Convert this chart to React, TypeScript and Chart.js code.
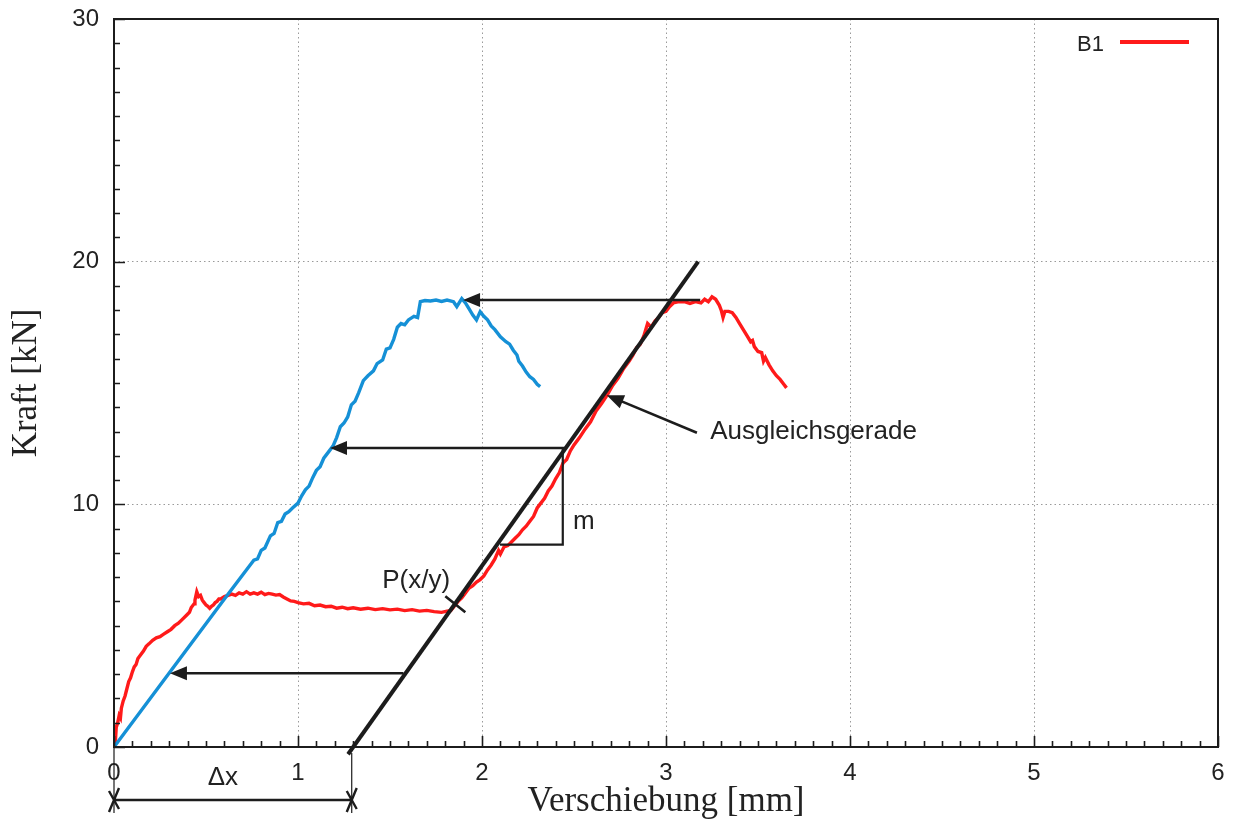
import { useEffect, useRef } from 'react';
import { Chart, registerables } from 'chart.js';

Chart.register(...registerables);

// ---- Axis ticks ----
const xMajorTicks = [0, 1, 2, 3, 4, 5, 6];
const yMajorTicks = [0, 10, 20, 30];
const xMinorStep = 0.1;
const yMinorStep = 1;

// ---- Series: B1 (measured, red) ----
const b1X = [0, 0.004, 0.008, 0.012, 0.02, 0.028, 0.035, 0.04, 0.05, 0.06, 0.07, 0.08, 0.09, 0.1, 0.11, 0.12, 0.13, 0.145, 0.16, 0.175, 0.19, 0.21, 0.23, 0.25, 0.27, 0.29, 0.31, 0.33, 0.35, 0.37, 0.39, 0.41, 0.42, 0.435, 0.44, 0.45, 0.46, 0.47, 0.48, 0.49, 0.5, 0.51, 0.52, 0.53, 0.54, 0.55, 0.56, 0.57, 0.58, 0.6, 0.62, 0.64, 0.66, 0.68, 0.7, 0.72, 0.74, 0.76, 0.78, 0.8, 0.82, 0.84, 0.86, 0.88, 0.9, 0.92, 0.94, 0.96, 0.98, 1.0, 1.03, 1.06, 1.09, 1.12, 1.15, 1.18, 1.21, 1.24, 1.27, 1.3, 1.34, 1.38, 1.42, 1.46, 1.5, 1.54, 1.58, 1.62, 1.66, 1.7, 1.74, 1.78, 1.81, 1.83, 1.855, 1.87, 1.89, 1.91, 1.93, 1.95, 1.97, 1.99, 2.01, 2.03, 2.05, 2.07, 2.09, 2.1, 2.12, 2.14, 2.16, 2.18, 2.2, 2.22, 2.24, 2.26, 2.28, 2.3, 2.32, 2.34, 2.36, 2.38, 2.4, 2.42, 2.44, 2.46, 2.48, 2.5, 2.53, 2.56, 2.59, 2.62, 2.65, 2.68, 2.71, 2.74, 2.77, 2.8, 2.82, 2.84, 2.86, 2.88, 2.9, 2.92, 2.94, 2.96, 2.98, 3.0, 3.02, 3.04, 3.07, 3.1, 3.13, 3.16, 3.19, 3.21, 3.23, 3.25, 3.27, 3.29, 3.3, 3.31, 3.32, 3.34, 3.36, 3.38, 3.4, 3.42, 3.44, 3.46, 3.47, 3.48, 3.5, 3.52, 3.53, 3.54, 3.56, 3.58, 3.6, 3.62, 3.64, 3.655];
const b1Y = [0, 0.5, 0.3, 0.8, 1.0, 1.3, 1.2, 1.6, 1.9, 2.1, 2.4, 2.7, 2.85, 3.1, 3.3, 3.4, 3.65, 3.8, 3.95, 4.15, 4.25, 4.4, 4.5, 4.55, 4.65, 4.75, 4.85, 5.0, 5.1, 5.25, 5.4, 5.55, 5.75, 5.9, 6.05, 6.4, 6.2, 6.25, 6.05, 5.95, 5.85, 5.8, 5.72, 5.8, 5.85, 5.95, 6.0, 6.1, 6.1, 6.2, 6.25, 6.3, 6.25, 6.35, 6.3, 6.4, 6.3, 6.35, 6.3, 6.38, 6.28, 6.33, 6.3, 6.26, 6.28, 6.18, 6.1, 6.02, 6.0, 5.95, 5.9, 5.92, 5.82, 5.85, 5.78, 5.8, 5.72, 5.76, 5.7, 5.74, 5.68, 5.72, 5.66, 5.7, 5.65, 5.68, 5.62, 5.66, 5.6, 5.63, 5.58, 5.55, 5.6, 5.62, 5.85, 6.0, 6.15, 6.35, 6.55, 6.65, 6.8, 6.9, 7.05, 7.3, 7.5, 7.75, 8.1, 7.95, 8.25, 8.3, 8.45, 8.6, 8.75, 8.95, 9.1, 9.3, 9.5, 9.85, 10.05, 10.25, 10.55, 10.75, 11.05, 11.3, 11.7, 11.85, 12.2, 12.45, 12.75, 13.1, 13.4, 13.85, 14.15, 14.5, 14.9, 15.2, 15.6, 15.9, 16.15, 16.45, 16.6, 16.95, 17.45, 17.3, 17.55, 17.7, 17.9, 17.95, 18.15, 18.3, 18.35, 18.35, 18.28, 18.35, 18.3, 18.45, 18.35, 18.55, 18.45, 18.2, 18.0, 17.7, 17.95, 17.95, 17.9, 17.7, 17.45, 17.2, 16.95, 16.7, 16.75, 16.5, 16.3, 16.25, 15.9, 16.05, 15.75, 15.5, 15.3, 15.15, 14.95, 14.8];

// ---- Series: corrected curve (shifted by delta x, blue) ----
const corrX = [0, 0.3, 0.6, 0.74, 0.76, 0.78, 0.8, 0.82, 0.85, 0.87, 0.89, 0.91, 0.93, 0.95, 0.97, 1.0, 1.02, 1.04, 1.06, 1.08, 1.1, 1.12, 1.14, 1.16, 1.19, 1.21, 1.23, 1.25, 1.27, 1.29, 1.31, 1.33, 1.355, 1.38, 1.41, 1.43, 1.46, 1.48, 1.5, 1.52, 1.54, 1.56, 1.58, 1.6, 1.63, 1.65, 1.665, 1.69, 1.72, 1.75, 1.78, 1.81, 1.845, 1.863, 1.89, 1.91, 1.93, 1.95, 1.97, 1.99, 2.01, 2.03, 2.05, 2.07, 2.1, 2.13, 2.15, 2.17, 2.19, 2.2, 2.22, 2.24, 2.26, 2.28, 2.3, 2.316];
const corrY = [0, 3.05, 6.1, 7.5, 7.7, 7.75, 8.1, 8.2, 8.7, 8.8, 9.25, 9.3, 9.6, 9.7, 9.85, 10.05, 10.35, 10.6, 10.75, 11.1, 11.4, 11.55, 11.9, 12.1, 12.4, 12.75, 13.2, 13.35, 13.6, 14.1, 14.25, 14.6, 15.1, 15.3, 15.5, 15.8, 15.95, 16.4, 16.45, 16.8, 17.3, 17.45, 17.4, 17.6, 17.75, 17.7, 18.35, 18.4, 18.38, 18.42, 18.36, 18.42, 18.35, 18.15, 18.48, 18.3, 18.05, 17.8, 17.6, 17.94, 17.75, 17.6, 17.35, 17.2, 16.9, 16.7, 16.6, 16.35, 16.15, 15.9, 15.7, 15.45, 15.26, 15.15, 14.95, 14.85];

// ---- Fit line (Ausgleichsgerade) ----
const fitX = [1.272, 3.175];
const fitY = [-0.3, 20.0];

// ---- Annotations ----
const arrowFromX = [3.186, 2.452, 1.573];
const arrowToX = [1.897, 1.174, 0.304];
const arrowY = [18.42, 12.32, 3.04];
const pointerFrom = [3.168, 12.95];
const pointerTo = [2.678, 14.5];
const triangleX = [2.098, 2.439];
const triangleY = [8.34, 12.32];
const pointP = [1.855, 5.88];
const deltaXRange = [0, 1.292];
const fitLabelPos = [3.24, 13.0];
const slopeLabelPos = [2.495, 9.27];
const pointLabelPos = [1.642, 6.85];

const seriesLabel = 'B1';
const INK = '#1c1c1c';
const RED = '#ff1a1a';
const BLUE = '#1590d6';
const SANS = "'Liberation Sans', Arial, Helvetica, sans-serif";
const SERIF = "'Liberation Serif', 'Times New Roman', serif";

const toPoints = (xs: number[], ys: number[]) => xs.map((v, i) => ({ x: v, y: ys[i] }));

const annotationPlugin = {
  id: 'annotations',
  afterDatasetsDraw(chart: any) {
    const { ctx, chartArea: a, scales } = chart;
    const sx = scales.x;
    const sy = scales.y;
    const px = (v: number) => sx.getPixelForValue(v);
    const py = (v: number) => sy.getPixelForValue(v);
    ctx.save();

    // frame
    ctx.strokeStyle = INK;
    ctx.lineWidth = 2;
    ctx.strokeRect(a.left, a.top, a.right - a.left, a.bottom - a.top);

    // inward ticks
    ctx.lineWidth = 1.6;
    ctx.beginPath();
    const xmin = xMajorTicks[0];
    const xmax = xMajorTicks[xMajorTicks.length - 1];
    for (let i = 0; xmin + i * xMinorStep <= xmax + 1e-9; i++) {
      const v = xmin + i * xMinorStep;
      const major = i % 10 === 0;
      const p = Math.round(px(v)) + 0.5;
      ctx.moveTo(p, a.bottom);
      ctx.lineTo(p, a.bottom - (major ? 11 : 6));
    }
    const ymin = yMajorTicks[0];
    const ymax = yMajorTicks[yMajorTicks.length - 1];
    for (let i = 0; ymin + i * yMinorStep <= ymax + 1e-9; i++) {
      const v = ymin + i * yMinorStep;
      const major = i % 10 === 0;
      const p = Math.round(py(v)) + 0.5;
      ctx.moveTo(a.left, p);
      ctx.lineTo(a.left + (major ? 11 : 6), p);
    }
    ctx.stroke();

    const arrow = (x1: number, y1: number, x2: number, y2: number, w: number) => {
      const ang = Math.atan2(y2 - y1, x2 - x1);
      const len = 17;
      const hw = 7;
      ctx.lineWidth = w;
      ctx.beginPath();
      ctx.moveTo(x1, y1);
      ctx.lineTo(x2 - Math.cos(ang) * len * 0.8, y2 - Math.sin(ang) * len * 0.8);
      ctx.stroke();
      ctx.beginPath();
      ctx.moveTo(x2, y2);
      ctx.lineTo(x2 - Math.cos(ang) * len + Math.sin(ang) * hw, y2 - Math.sin(ang) * len - Math.cos(ang) * hw);
      ctx.lineTo(x2 - Math.cos(ang) * len - Math.sin(ang) * hw, y2 - Math.sin(ang) * len + Math.cos(ang) * hw);
      ctx.closePath();
      ctx.fill();
    };

    ctx.strokeStyle = INK;
    ctx.fillStyle = INK;
    for (let i = 0; i < arrowY.length; i++) {
      arrow(px(arrowFromX[i]), py(arrowY[i]), px(arrowToX[i]), py(arrowY[i]), 2.6);
    }
    arrow(px(pointerFrom[0]), py(pointerFrom[1]), px(pointerTo[0]), py(pointerTo[1]), 2.6);

    // slope triangle
    ctx.lineWidth = 2.2;
    ctx.beginPath();
    ctx.moveTo(px(triangleX[0]), py(triangleY[0]));
    ctx.lineTo(px(triangleX[1]), py(triangleY[0]));
    ctx.lineTo(px(triangleX[1]), py(triangleY[1]));
    ctx.stroke();

    // P marker
    const pX = px(pointP[0]);
    const pY = py(pointP[1]);
    ctx.lineWidth = 2.6;
    ctx.beginPath();
    ctx.moveTo(pX - 10, pY - 8);
    ctx.lineTo(pX + 10, pY + 8);
    ctx.moveTo(pX - 8, pY + 10);
    ctx.lineTo(pX + 8, pY - 10);
    ctx.stroke();

    // delta x dimension
    const d0 = px(deltaXRange[0]);
    const d1 = px(deltaXRange[1]);
    const dimY = a.bottom + 53;
    ctx.lineWidth = 1.2;
    ctx.beginPath();
    ctx.moveTo(d0, a.bottom);
    ctx.lineTo(d0, a.bottom + 66);
    ctx.moveTo(d1, a.bottom + 6);
    ctx.lineTo(d1, a.bottom + 66);
    ctx.stroke();
    ctx.lineWidth = 2.4;
    ctx.beginPath();
    ctx.moveTo(d0, dimY);
    ctx.lineTo(d1, dimY);
    for (const c of [d0, d1]) {
      ctx.moveTo(c - 5, dimY + 12);
      ctx.lineTo(c + 5, dimY - 12);
      ctx.moveTo(c - 5, dimY - 9);
      ctx.lineTo(c + 5, dimY + 9);
    }
    ctx.stroke();

    // texts
    ctx.fillStyle = '#222';
    ctx.font = `26px ${SANS}`;
    ctx.textBaseline = 'middle';
    ctx.textAlign = 'left';
    ctx.fillText('Ausgleichsgerade', px(fitLabelPos[0]), py(fitLabelPos[1]));
    ctx.fillText('m', px(slopeLabelPos[0]), py(slopeLabelPos[1]));
    ctx.textAlign = 'center';
    ctx.fillText('P(x/y)', px(pointLabelPos[0]), py(pointLabelPos[1]));
    ctx.fillText('Δx', (d0 + d1) / 2 - 10, a.bottom + 31);

    // legend
    ctx.font = `22px ${SANS}`;
    ctx.textAlign = 'right';
    ctx.textBaseline = 'alphabetic';
    ctx.fillText(seriesLabel, a.right - 114, a.top + 32);
    ctx.strokeStyle = RED;
    ctx.lineWidth = 4;
    ctx.beginPath();
    ctx.moveTo(a.right - 98, a.top + 23);
    ctx.lineTo(a.right - 29, a.top + 23);
    ctx.stroke();

    ctx.restore();
  },
};

export default function App() {
  const ref = useRef<HTMLCanvasElement | null>(null);

  useEffect(() => {
    if (!ref.current) return;
    const chart = new Chart(ref.current, {
      type: 'scatter',
      data: {
        datasets: [
          {
            label: seriesLabel,
            data: toPoints(b1X, b1Y),
            showLine: true,
            borderColor: RED,
            borderWidth: 3.4,
            pointRadius: 0,
            tension: 0,
            order: 3,
          },
          {
            label: 'verschoben',
            data: toPoints(corrX, corrY),
            showLine: true,
            borderColor: BLUE,
            borderWidth: 3.4,
            pointRadius: 0,
            tension: 0,
            order: 2,
          },
          {
            label: 'Ausgleichsgerade',
            data: toPoints(fitX, fitY),
            showLine: true,
            borderColor: INK,
            borderWidth: 4,
            pointRadius: 0,
            clip: false,
            order: 1,
          },
        ],
      },
      options: {
        responsive: false,
        animation: false,
        layout: { padding: { top: 19, right: 18, left: 0, bottom: 0 } },
        plugins: {
          legend: { display: false },
          tooltip: { enabled: false },
        },
        scales: {
          x: {
            type: 'linear',
            min: xMajorTicks[0],
            max: xMajorTicks[xMajorTicks.length - 1],
            afterBuildTicks: (s: any) => {
              s.ticks = xMajorTicks.map((v) => ({ value: v }));
            },
            afterFit: (s: any) => {
              s.height = 76;
              s.paddingLeft = 0;
              s.paddingRight = 0;
            },
            ticks: {
              padding: 12,
              color: '#222',
              font: { family: SANS, size: 24 },
            },
            grid: { color: '#9a9a9a', lineWidth: 1, drawTicks: false },
            border: { display: false, dash: [1.5, 3] },
            title: {
              display: true,
              text: 'Verschiebung [mm]',
              color: '#222',
              font: { family: SERIF, size: 35, lineHeight: 1.2 },
              padding: { top: 0, bottom: 0 },
            },
          },
          y: {
            type: 'linear',
            min: yMajorTicks[0],
            max: yMajorTicks[yMajorTicks.length - 1],
            afterBuildTicks: (s: any) => {
              s.ticks = yMajorTicks.map((v) => ({ value: v }));
            },
            afterFit: (s: any) => {
              s.width = 114;
              s.paddingTop = 0;
              s.paddingBottom = 0;
            },
            ticks: {
              padding: 15,
              color: '#222',
              font: { family: SANS, size: 24 },
            },
            grid: { color: '#9a9a9a', lineWidth: 1, drawTicks: false },
            border: { display: false, dash: [1.5, 3] },
            title: {
              display: true,
              text: 'Kraft [kN]',
              color: '#222',
              font: { family: SERIF, size: 35, lineHeight: 1.2 },
              padding: { top: 6, bottom: 0 },
            },
          },
        },
      },
      plugins: [annotationPlugin],
    } as any);
    return () => chart.destroy();
  }, []);

  return (
    <div style={{ position: 'fixed', left: 0, top: 0, width: 1236, height: 823, background: '#fff' }}>
      <canvas ref={ref} width={1236} height={823} style={{ display: 'block' }} />
    </div>
  );
}
